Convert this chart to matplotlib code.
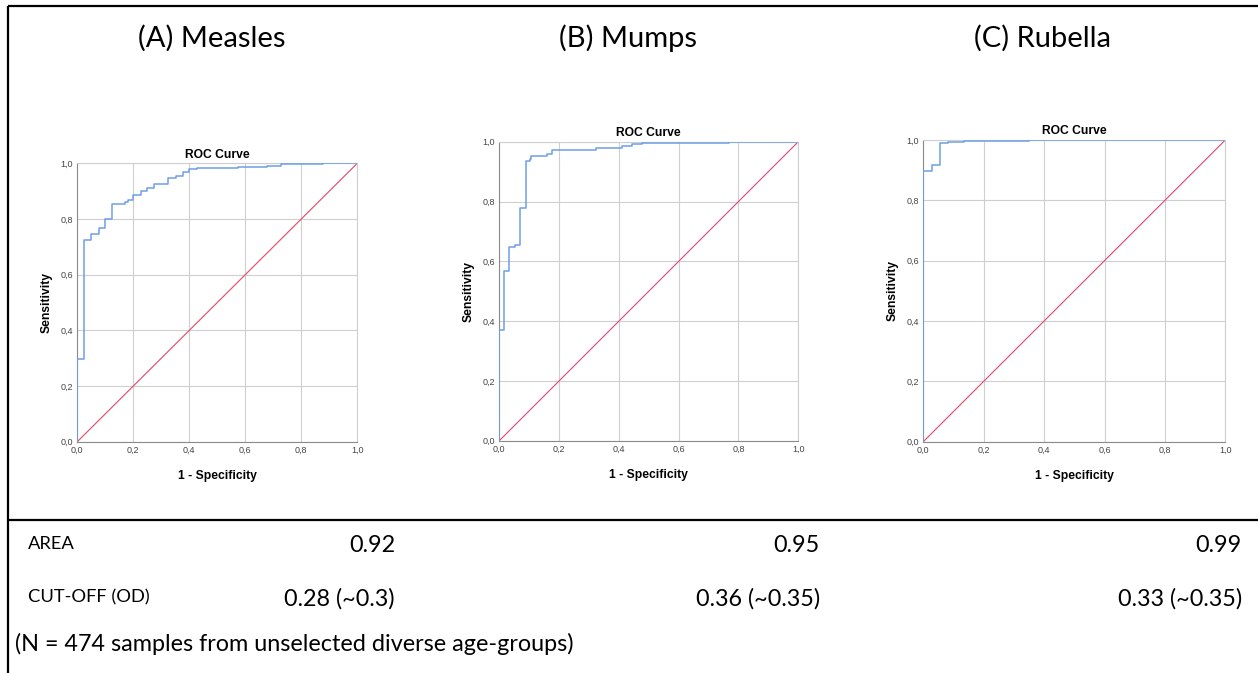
import matplotlib
matplotlib.use('Agg')
import matplotlib.pyplot as plt

plt.rcParams['font.family'] = ['Liberation Sans', 'DejaVu Sans']

W, H = 1258, 673

panels = ['(A) Measles', '(B) Mumps', '(C) Rubella']

# ROC vertices (1 - specificity, sensitivity)
measles_fpr = [0, 0, 0.025, 0.049, 0.076, 0.100, 0.125, 0.170, 0.180, 0.200, 0.226, 0.250,
               0.275, 0.325, 0.351, 0.376, 0.400, 0.426, 0.575, 0.676, 0.727, 0.876, 1.0]
measles_tpr = [0, 0.296, 0.725, 0.745, 0.766, 0.800, 0.855, 0.860, 0.868, 0.886, 0.900, 0.910,
               0.926, 0.948, 0.956, 0.970, 0.980, 0.983, 0.987, 0.992, 0.996, 1.0, 1.0]

mumps_fpr = [0, 0, 0.017, 0.033, 0.052, 0.070, 0.089, 0.103, 0.106, 0.158, 0.177, 0.322,
             0.409, 0.445, 0.476, 0.767, 1.0]
mumps_tpr = [0, 0.370, 0.566, 0.649, 0.653, 0.779, 0.936, 0.942, 0.952, 0.958, 0.973, 0.978,
             0.986, 0.991, 0.997, 1.0, 1.0]

rubella_fpr = [0, 0, 0.028, 0.054, 0.081, 0.136, 0.243, 0.351, 1.0]
rubella_tpr = [0, 0.896, 0.917, 0.989, 0.993, 0.997, 0.998, 1.0, 1.0]

ticks = [0.0, 0.2, 0.4, 0.6, 0.8, 1.0]
tick_labels = ['0,0', '0,2', '0,4', '0,6', '0,8', '1,0']

area = ['0.92', '0.95', '0.99']
cutoff = ['0.28 (~0.3)', '0.36 (~0.35)', '0.33 (~0.35)']
note = '(N = 474 samples from unselected diverse age-groups)'

curves = [(measles_fpr, measles_tpr), (mumps_fpr, mumps_tpr), (rubella_fpr, rubella_tpr)]

# pixel boxes of the three plots: left, top, right, bottom
boxes = [(77.3, 163.3, 357.3, 441.7), (499.3, 141.7, 798.3, 440.7), (923.3, 140.0, 1225.3, 441.7)]
head_x = [212, 628, 1043]
value_x = [395, 820, 1242]

lato = ['Lato', 'DejaVu Sans']

fig = plt.figure(figsize=(W / 100, H / 100), dpi=100)

# background layer in pixel coordinates for frame lines and text
bg = fig.add_axes([0, 0, 1, 1])
bg.set_xlim(0, W)
bg.set_ylim(H, 0)
bg.axis('off')
bg.plot([8, W], [6, 6], color='black', lw=1.6, solid_capstyle='butt')
bg.plot([8, 8], [6, H], color='black', lw=1.6, solid_capstyle='butt')
bg.plot([8, W], [520, 520], color='black', lw=1.6, solid_capstyle='butt')

for i in range(3):
    bg.text(head_x[i], 38, panels[i], ha='center', va='center', fontsize=21, family=lato)
    bg.text(value_x[i], 546, area[i], ha='right', va='center', fontsize=16.8, family=lato)
    bg.text(value_x[i], 599, cutoff[i], ha='right', va='center', fontsize=16.8, family=lato)

bg.text(28, 544, 'AREA', ha='left', va='center', fontsize=13.2, family=lato)
bg.text(28, 597, 'CUT-OFF (OD)', ha='left', va='center', fontsize=13.2, family=lato)
bg.text(15, 644, note, ha='left', va='center', fontsize=16.8, family=lato)

for i in range(3):
    l, t, r, b = boxes[i]
    ax = fig.add_axes([l / W, 1 - b / H, (r - l) / W, (b - t) / H])
    fpr, tpr = curves[i]
    ax.plot([0, 1], [0, 1], color='#e4456b', lw=0.8, zorder=2)
    ax.step(fpr, tpr, where='post', color='#6f9fe8', lw=1.1, zorder=3)
    ax.set_xlim(0, 1)
    ax.set_ylim(0, 1)
    ax.set_xticks(ticks)
    ax.set_yticks(ticks)
    ax.set_xticklabels(tick_labels)
    ax.set_yticklabels(tick_labels)
    ax.tick_params(length=0, pad=3, labelsize=6.5, labelcolor='#444444')
    ax.grid(True, color='#cfcfcf', lw=0.8)
    ax.set_axisbelow(True)
    for side in ['top', 'right']:
        ax.spines[side].set_color('#cfcfcf')
    for side in ['left', 'bottom']:
        ax.spines[side].set_color('#8a8a8a')
    for side in ax.spines:
        ax.spines[side].set_linewidth(0.8)
    ax.set_title('ROC Curve', fontsize=8.7, fontweight='bold', pad=4)
    ax.set_xlabel('1 - Specificity', fontsize=8.7, fontweight='bold', labelpad=11)
    ax.set_ylabel('Sensitivity', fontsize=8.7, fontweight='bold', labelpad=6)

fig.savefig('out.png', dpi=100)
